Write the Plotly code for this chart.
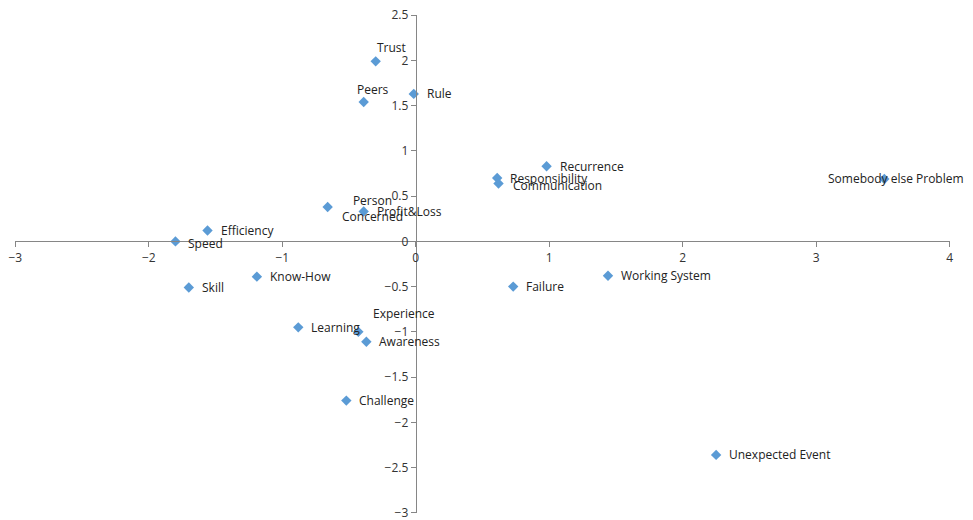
import plotly.graph_objects as go

# Concept map coordinates (dimension 1 / dimension 2)
names = [
    "Trust", "Peers", "Rule", "Recurrence", "Responsibility", "Communication",
    "Somebody else Problem", "Person<br>Concerned", "Profit&Loss", "Efficiency",
    "Speed", "Know-How", "Skill", "Failure", "Working System", "Learning",
    "Experience", "Awareness", "Challenge", "Unexpected Event",
]
x_vals = [-0.30, -0.39, -0.015, 0.98, 0.61, 0.62,
          3.51, -0.66, -0.39, -1.56,
          -1.80, -1.19, -1.70, 0.73, 1.44, -0.88,
          -0.43, -0.37, -0.52, 2.25]
y_vals = [1.99, 1.54, 1.63, 0.83, 0.70, 0.64,
          0.69, 0.38, 0.33, 0.12,
          0.00, -0.39, -0.51, -0.50, -0.38, -0.95,
          -1.00, -1.11, -1.76, -2.36]

x_ticks = [-3, -2, -1, 0, 1, 2, 3, 4]
y_ticks = [-3, -2.5, -2, -1.5, -1, -0.5, 0, 0.5, 1, 1.5, 2, 2.5]

X_RANGE = [-3.002, 4.002]
Y_RANGE = [-3.002, 2.502]

FONT = "Open Sans"
AXIS_GREY = "#868686"
MARKER_BLUE = "#5B9BD5"

# Label placement: (xanchor, xshift, yshift); default is to the right of the marker
label_place = {
    "Trust": ("center", 16, 14),
    "Peers": ("center", 9, 13),
    "Experience": ("center", 46, 18),
    "Communication": ("left", 12, -2),
    "Speed": ("left", 11, -2),
    "Person<br>Concerned": ("center", 45, -1),
    "Somebody else Problem": ("center", 12, 0),
}

fig = go.Figure()
fig.add_trace(go.Scatter(
    x=x_vals, y=y_vals, mode="markers",
    marker=dict(symbol="diamond", size=8, color=MARKER_BLUE),
    hovertext=names, hoverinfo="text+x+y", showlegend=False,
))

annotations = []
for name, xv, yv in zip(names, x_vals, y_vals):
    anchor, dx, dy = label_place.get(name, ("left", 11, 0))
    annotations.append(dict(
        x=xv, y=yv, xref="x", yref="y", text=name, showarrow=False,
        xanchor=anchor, yanchor="middle", xshift=dx, yshift=dy, align="center",
        font=dict(family=FONT, size=12, color="#222222"),
    ))

# Axes cross at the origin
x_zero = (0 - X_RANGE[0]) / (X_RANGE[1] - X_RANGE[0])
y_zero = (0 - Y_RANGE[0]) / (Y_RANGE[1] - Y_RANGE[0])

axis_common = dict(
    showgrid=False, zeroline=False, showline=True, linecolor=AXIS_GREY,
    linewidth=1, ticks="outside", ticklen=5, tickcolor=AXIS_GREY,
    tickfont=dict(family=FONT, size=12, color="#333333"),
    ticklabeloverflow="allow", automargin=False,
    anchor="free", fixedrange=True,
)

fig.update_layout(
    width=973, height=520,
    margin=dict(l=15, r=23, t=15, b=7),
    paper_bgcolor="white", plot_bgcolor="white",
    xaxis=dict(range=X_RANGE, tickvals=x_ticks, position=y_zero, **axis_common),
    yaxis=dict(range=Y_RANGE, tickvals=y_ticks, position=x_zero, **axis_common),
    annotations=annotations,
)

fig.write_html("out.html")
